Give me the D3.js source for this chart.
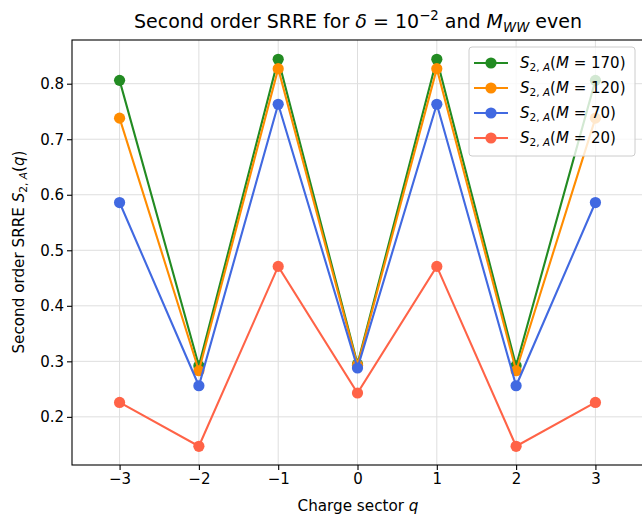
<!DOCTYPE html>
<html>
<head>
<meta charset="utf-8">
<script src="https://cdn.jsdelivr.net/npm/d3@7"></script>
<style>
  body { margin: 0; background: #fff; }
  svg { display: block; font-family: "DejaVu Sans", sans-serif; }
</style>
</head>
<body>
<svg id="chart" width="642" height="515"></svg>
<script>
// charge sectors
const sectors = [-3, -2, -1, 0, 1, 2, 3];

// SRRE values per truncation M
const s170 = [0.806, 0.292, 0.844, 0.295, 0.844, 0.292, 0.806];
const s120 = [0.738, 0.283, 0.827, 0.293, 0.827, 0.283, 0.738];
const s70 = [0.586, 0.256, 0.763, 0.288, 0.763, 0.256, 0.586];
const s20 = [0.226, 0.147, 0.471, 0.243, 0.471, 0.147, 0.226];

const seriesM = [170, 120, 70, 20];
const seriesColors = ['#228B22', '#FF8C00', '#4169E1', '#FF6347'];

const xTicks = [-3, -2, -1, 0, 1, 2, 3];
const yTicks = [0.2, 0.3, 0.4, 0.5, 0.6, 0.7, 0.8];

const series = [s170, s120, s70, s20].map((vals, i) => ({
  m: seriesM[i],
  color: seriesColors[i],
  points: sectors.map((q, j) => ({ q: q, v: vals[j] }))
}));

const svg = d3.select('#chart');
const margin = { top: 40, right: -1, bottom: 50, left: 72 };
const width = 642 - margin.left - margin.right;
const height = 515 - margin.top - margin.bottom;

const x = d3.scaleLinear().domain([-3.6, 3.6]).range([0, width]);
const y = d3.scaleLinear().domain([0.1133, 0.8787]).range([height, 0]);

const canvas = svg.append('g')
  .attr('transform', `translate(${margin.left}, ${margin.top})`);

// grid
canvas.append('g')
  .selectAll('line')
  .data(xTicks)
  .join('line')
  .attr('x1', d => x(d)).attr('x2', d => x(d))
  .attr('y1', 0).attr('y2', height)
  .attr('stroke', '#dedede').attr('stroke-width', 1);

canvas.append('g')
  .selectAll('line')
  .data(yTicks)
  .join('line')
  .attr('x1', 0).attr('x2', width)
  .attr('y1', d => y(d)).attr('y2', d => y(d))
  .attr('stroke', '#dedede').attr('stroke-width', 1);

// axes
const xAxis = canvas.append('g')
  .attr('transform', `translate(0, ${height})`)
  .call(d3.axisBottom(x).tickValues(xTicks).tickSizeOuter(0).tickSize(5)
    .tickFormat(d => d < 0 ? '\u2212' + Math.abs(d) : d));
const yAxis = canvas.append('g')
  .call(d3.axisLeft(y).tickValues(yTicks).tickSizeOuter(0).tickSize(5)
    .tickFormat(d3.format('.1f')));

[xAxis, yAxis].forEach(a => {
  a.select('.domain').remove();
  a.attr('font-size', null).attr('font-family', null);
  a.selectAll('line').attr('stroke', '#000').attr('stroke-width', 1.1);
  a.selectAll('text').attr('font-size', '15px').attr('fill', '#000')
    .attr('font-family', '"DejaVu Sans", sans-serif');
});
xAxis.selectAll('text').attr('dy', '0.71em').attr('y', 8);
yAxis.selectAll('text').attr('x', -8);

// spines
canvas.append('rect')
  .attr('x', 0).attr('y', 0)
  .attr('width', width).attr('height', height)
  .attr('fill', 'none').attr('stroke', '#000').attr('stroke-width', 1.1);

// series
const line = d3.line().x(d => x(d.q)).y(d => y(d.v));
series.forEach(s => {
  const g = canvas.append('g');
  g.append('path')
    .datum(s.points)
    .attr('d', line)
    .attr('fill', 'none')
    .attr('stroke', s.color)
    .attr('stroke-width', 2.1);
  g.selectAll('circle')
    .data(s.points)
    .join('circle')
    .attr('cx', d => x(d.q))
    .attr('cy', d => y(d.v))
    .attr('r', 5.6)
    .attr('fill', s.color);
});

// title
const title = svg.append('text')
  .attr('x', 358).attr('y', 28)
  .attr('text-anchor', 'middle')
  .attr('font-size', '19px')
  .attr('fill', '#000');
title.append('tspan').text('Second order SRRE for ');
title.append('tspan').attr('font-style', 'italic').text('\u03B4');
title.append('tspan').text(' = 10');
title.append('tspan').attr('font-size', '13.3px').attr('dy', -8).text('\u22122');
title.append('tspan').attr('dy', 8).text(' and ');
title.append('tspan').attr('font-style', 'italic').text('M');
title.append('tspan').attr('font-size', '13.3px').attr('font-style', 'italic').attr('dy', 4).text('WW');
title.append('tspan').attr('dy', -4).text(' even');

// axis labels
const xl = svg.append('text')
  .attr('x', 358).attr('y', 511)
  .attr('text-anchor', 'middle')
  .attr('font-size', '15.2px');
xl.append('tspan').text('Charge sector ');
xl.append('tspan').attr('font-style', 'italic').text('q');

const yl = svg.append('text')
  .attr('transform', 'translate(24, 252) rotate(-90)')
  .attr('text-anchor', 'middle')
  .attr('font-size', '15.2px');
yl.append('tspan').text('Second order SRRE ');
yl.append('tspan').attr('font-style', 'italic').text('S');
yl.append('tspan').attr('font-size', '10.6px').attr('dy', 3).text('2, ');
yl.append('tspan').attr('font-size', '10.6px').attr('font-style', 'italic').text('A');
yl.append('tspan').attr('dy', -3).text('(');
yl.append('tspan').attr('font-style', 'italic').text('q');
yl.append('tspan').text(')');

// legend
const legend = svg.append('g').attr('transform', 'translate(469, 47)');
legend.append('rect')
  .attr('width', 166).attr('height', 109)
  .attr('rx', 3)
  .attr('fill', 'rgba(255,255,255,0.8)')
  .attr('stroke', '#cccccc').attr('stroke-width', 1);

series.forEach((s, i) => {
  const ly = 16 + i * 25;
  const item = legend.append('g').attr('transform', `translate(0, ${ly})`);
  item.append('line')
    .attr('x1', 5).attr('x2', 39)
    .attr('stroke', s.color).attr('stroke-width', 2.1);
  item.append('circle').attr('cx', 22).attr('r', 5.6).attr('fill', s.color);
  const t = item.append('text')
    .attr('x', 51).attr('y', 5)
    .attr('font-size', '15px');
  t.append('tspan').attr('font-style', 'italic').text('S');
  t.append('tspan').attr('font-size', '10.5px').attr('dy', 3).text('2, ');
  t.append('tspan').attr('font-size', '10.5px').attr('font-style', 'italic').text('A');
  t.append('tspan').attr('dy', -3).text('(');
  t.append('tspan').attr('font-style', 'italic').text('M');
  t.append('tspan').text(' = ' + s.m + ')');
});
</script>
</body>
</html>
